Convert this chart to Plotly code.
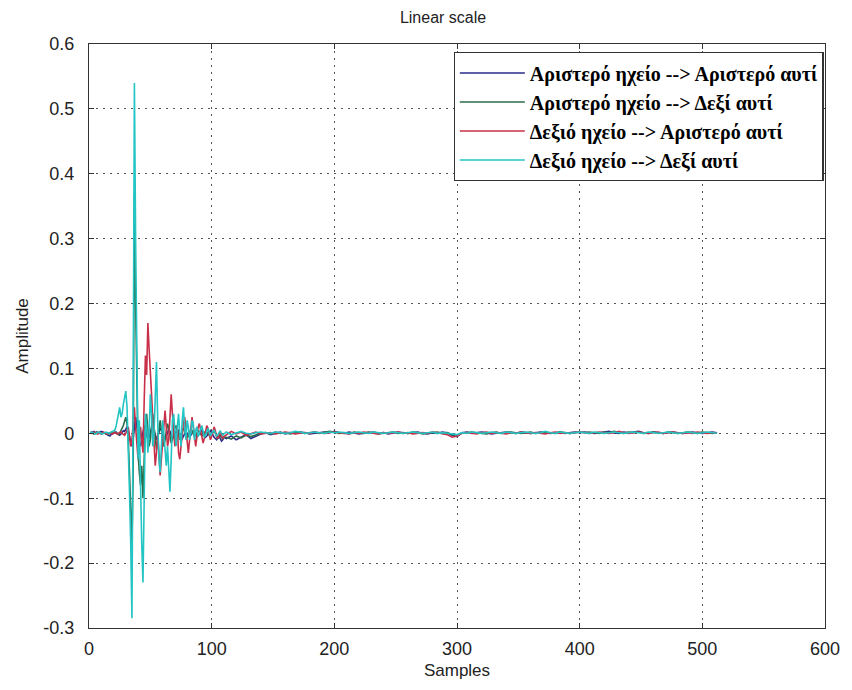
import plotly.graph_objects as go

# Sample indices (dense at the start, every 4th sample later)
samples = list(range(1, 111)) + list(range(112, 513, 4))

# Amplitudes in thousandths
ll_early = [2,1,2,3,1,2,0,1,2,3, 2,1,0,-1,-2,-3,-4,-2,-1,0,
            1,2,0,-2,-3,-1,2,4,3,6, 10,4,-6,-12,-20,-8,15,25,10,-5,
            -15,-20,-8,5,12,6,-4,-10,-6,2, 8,12,4,-6,-10,-4,3,8,5,-2,
            -6,-10,-5,2,6,3,-3,-8,-6,-1, 4,7,3,-2,-6,-8,-4,1,3,0,
            -4,-6,-3,1,4,2,-2,-5,-3,0, 3,5,1,-3,-6,-4,-1,2,4,1,
            -3,-6,-8,-10,-7,-4,-8,-12,-10,-6]
ll_late = [-8,-4,-10,-6,-2,-8,-4,-1,
           1,-2,0,2,-1,1,0,2,1,-1,0,1,2,1,3,
           1,0,2,1,-1,0,1,2,0,1,-1,0,2,1,0,1,2,0,-1,1,0,2,1,-3,-5,
           1,2,0,1,2,1,-1,0,1,2,1,0,2,1,0,1,2,1,0,1,2,0,1,2,1,
           2,1,0,1,2,3,1,0,2,1,2,3,1,0,2,1,0,1,2,1,0,1,2,1,0,1,2,1]

lr_early = [0,1,0,-1,0,1,2,1,0,-1, 0,1,0,-1,-2,-1,0,1,0,1,
            2,1,-1,-2,0,3,8,12,18,25, 15,-10,-60,-120,-170,-60,370,200,40,-30,
            -60,-80,-50,-100,-40,20,30,10,-20,-10, 15,30,10,-15,-25,-10,10,20,5,-10,
            -20,-10,5,15,8,-5,-15,-10,0,8, 12,5,-5,-10,-5,3,8,5,-2,-6,
            -4,2,6,4,-1,-5,-3,1,4,2, -2,-4,-2,1,3,2,-1,-3,-2,0,
            2,3,0,-4,-8,-6,-3,-5,-9,-6]
lr_late = [-6,-9,-4,-7,-3,-5,-2,0,
           1,-1,2,0,1,-1,1,2,0,1,2,0,1,3,2,
           0,1,-1,2,1,0,2,1,-1,0,1,2,0,1,0,2,1,-1,0,1,2,0,1,-2,-3,
           0,1,2,1,0,-1,1,2,0,1,2,1,0,1,2,0,1,2,1,0,2,1,0,1,2,
           1,2,1,0,2,1,3,1,0,2,1,2,0,1,2,1,0,2,1,0,1,2,1,0,2,1,0,1]

rl_early = [1,0,1,2,1,0,-1,0,1,0, 1,2,1,0,-1,0,1,0,-1,0,
            1,0,-1,0,1,2,0,-2,-3,0, 5,10,-5,-20,-10,20,40,10,-20,-40,
            -20,10,-10,-30,50,120,90,170,130,80, 60,20,-20,-50,-30,0,-30,-65,-40,-10,
            20,35,10,-20,-10,40,60,30,0,-20, -10,10,-30,-40,-20,0,15,25,5,-20,
            -30,-10,15,25,10,-10,-20,-5,10,15, 5,-5,-15,-8,5,12,8,-2,-10,-5,
            5,10,4,-5,-8,-3,2,-4,-8,-5]
rl_late = [-2,3,-1,2,-3,0,2,-1,
           0,1,-1,0,2,1,-1,0,1,0,2,1,0,1,2,
           1,0,-1,1,0,2,1,0,-1,1,0,1,2,0,1,-1,0,1,0,2,1,0,-2,-6,-4,
           0,1,0,-1,1,2,0,1,0,-1,1,0,2,1,0,1,0,-1,1,2,0,1,0,1,2,
           1,0,1,2,1,0,1,3,1,0,1,2,1,0,1,2,0,1,2,1,0,1,0,2,1,0,1,0]

rr_early = [1,2,1,0,-1,0,1,2,1,0, -1,0,1,2,1,0,1,2,3,4,
            5,10,20,30,40,25,30,45,55,65, 40,-10,-90,-170,-285,50,540,300,60,-40,
            20,-90,-170,-230,-60,30,10,-30,0,60, 30,-20,0,50,110,20,-40,-60,-20,20,
            0,-30,-50,-20,-60,-90,-40,20,30,0, -20,10,30,0,-20,20,40,10,-10,20,
            10,-10,0,20,15,-10,5,10,-5,0, 8,12,3,-6,-3,5,8,2,-4,0,
            3,5,0,-4,-2,2,4,0,-3,-1]
rr_late = [2,-2,1,3,0,-1,1,2,
           1,0,2,1,0,1,3,2,0,1,2,1,0,2,1,
           2,1,0,1,2,1,0,2,1,0,1,2,1,0,1,2,1,0,1,2,0,1,0,-1,-2,
           1,0,2,1,0,1,2,1,0,2,1,0,1,2,1,0,1,3,1,0,2,1,0,1,2,
           1,0,2,1,0,1,2,1,0,1,2,1,0,2,1,0,1,2,1,0,1,2,1,0,1,2,1,0]

series_names = ["Αριστερό ηχείο --> Αριστερό αυτί",
                "Αριστερό ηχείο --> Δεξί αυτί",
                "Δεξιό ηχείο --> Αριστερό αυτί",
                "Δεξιό ηχείο --> Δεξί αυτί"]
series_vals = [ll_early + ll_late, lr_early + lr_late,
               rl_early + rl_late, rr_early + rr_late]
colors = ["#2b2b8c", "#2e6b4a", "#c8304a", "#22c4c4"]

x_ticks = [0, 100, 200, 300, 400, 500, 600]
y_ticks = [-0.3, -0.2, -0.1, 0, 0.1, 0.2, 0.3, 0.4, 0.5, 0.6]
y_ticktext = ["-0.3", "-0.2", "-0.1", "0", "0.1", "0.2", "0.3", "0.4", "0.5", "0.6"]

fig = go.Figure()
for name, vals, c in zip(series_names, series_vals, colors):
    fig.add_trace(go.Scatter(x=samples, y=[v / 1000 for v in vals], mode="lines",
                             name=name, line=dict(color=c, width=1.6)))

axis_common = dict(showline=True, linecolor="#333", linewidth=1.3, mirror="ticks",
                   ticks="inside", ticklen=5, tickcolor="#333",
                   showgrid=True, gridcolor="#555", griddash="2px,5px", gridwidth=1,
                   zeroline=False,
                   tickfont=dict(family="Liberation Sans, Arial", size=18, color="#222"))

fig.update_layout(
    width=852, height=690,
    margin=dict(l=89, r=20, t=44, b=62),
    paper_bgcolor="white", plot_bgcolor="white",
    title=dict(text="Linear scale", x=0.52, xanchor="center", y=1 - 17 / 690, yanchor="middle",
               font=dict(family="Liberation Sans, Arial", size=16, color="#222")),
    xaxis=dict(range=[0, 600], tickvals=x_ticks, ticklabelstandoff=4,
               title=dict(text="Samples", standoff=6,
                          font=dict(family="Liberation Sans, Arial", size=17, color="#222")),
               **axis_common),
    yaxis=dict(range=[-0.3, 0.6], tickvals=y_ticks, ticktext=y_ticktext, ticklabelstandoff=10,
               title=dict(text="Amplitude", standoff=10,
                          font=dict(family="Liberation Sans, Arial", size=17, color="#222")),
               **axis_common),
    legend=dict(x=0.998, xanchor="right", y=0.986, yanchor="top",
                bgcolor="white", bordercolor="#333", borderwidth=1.3,
                itemwidth=65, tracegroupgap=0,
                font=dict(family="Liberation Serif, Times New Roman", size=20,
                          color="black", weight="bold")),
    showlegend=True,
)

fig.write_html("out.html")
